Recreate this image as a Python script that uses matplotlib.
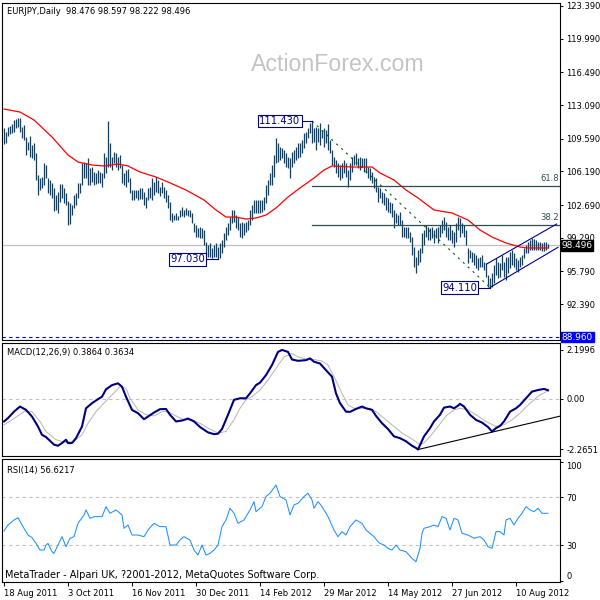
import matplotlib

matplotlib.use("Agg")
import matplotlib.pyplot as plt
import numpy as np

# daily EURJPY bars, index 0 = 18 Aug 2011
bar_highs = [
    110.70, 110.28, 110.80, 110.91, 111.11, 111.53, 111.63, 111.74, 111.74, 110.80,
    111.01, 109.76, 109.24, 109.87, 108.93, 109.14, 108.10, 105.81, 105.50, 105.60,
    107.06, 106.85, 105.50, 105.29, 104.98, 104.46, 103.73, 104.04, 104.87, 104.87,
    104.46, 103.94, 103.11, 102.90, 102.69, 103.73, 103.94, 104.98, 104.98, 107.06,
    107.16, 107.06, 107.58, 106.54, 106.64, 106.12, 106.02, 106.33, 106.12, 106.02,
    108.10, 107.68, 111.43, 109.14, 107.68, 108.20, 108.10, 107.68, 107.89, 106.85,
    106.02, 106.33, 106.43, 105.50, 104.25, 104.25, 104.25, 104.25, 104.46, 104.46,
    104.04, 103.52, 104.46, 104.56, 105.50, 105.08, 105.60, 105.29, 104.56, 105.08,
    104.56, 104.25, 103.73, 103.00, 101.86, 101.65, 101.86, 101.54, 102.17, 102.48,
    102.17, 102.38, 102.17, 102.17, 101.86, 100.82, 100.61, 100.30, 100.40, 100.30,
    100.09, 98.84, 98.53, 98.74, 98.22, 98.53, 98.74, 98.32, 98.74, 99.05,
    99.78, 100.40, 100.82, 101.44, 102.17, 102.17, 101.65, 101.44, 100.82, 100.92,
    100.82, 100.92, 101.13, 102.17, 102.69, 103.21, 103.21, 103.21, 103.21, 103.21,
    103.52, 104.77, 105.30, 106.02, 106.85, 107.89, 109.66, 109.14, 108.72, 108.62,
    108.41, 108.10, 107.68, 107.58, 108.20, 108.41, 108.72, 109.14, 109.14, 109.45,
    110.18, 110.28, 110.70, 111.22, 111.43, 110.70, 110.80, 110.70, 111.22, 110.49,
    110.70, 110.49, 111.11, 109.45, 108.41, 107.68, 107.37, 107.06, 106.85, 107.06,
    107.37, 107.06, 106.33, 107.06, 107.68, 107.89, 108.10, 107.58, 107.68, 107.58,
    107.58, 107.58, 106.64, 106.54, 106.12, 105.60, 105.50, 104.56, 104.46, 104.04,
    103.94, 103.52, 103.42, 103.00, 102.90, 102.17, 101.86, 101.65, 101.96, 101.13,
    100.40, 100.40, 100.40, 99.88, 99.36, 98.32, 97.28, 98.01, 98.22, 99.78,
    100.09, 100.61, 100.40, 100.30, 100.40, 100.09, 100.30, 100.40, 100.61, 101.13,
    101.44, 100.92, 100.40, 100.61, 100.09, 99.88, 100.82, 101.44, 101.34, 100.82,
    100.61, 100.09, 98.22, 98.01, 97.80, 97.70, 97.49, 97.18, 97.28, 97.49,
    96.76, 96.66, 95.41, 95.10, 95.62, 96.45, 97.18, 96.76, 96.66, 97.49,
    96.76, 97.28, 97.28, 97.80, 98.01, 97.70, 97.18, 96.97, 97.28, 97.49,
    98.22, 98.53, 98.84, 99.05, 99.26, 99.15, 99.05, 98.84, 98.84, 98.74,
    98.84, 98.84, 98.60,
]
bar_lows = [
    109.03, 109.14, 109.87, 110.07, 110.18, 110.28, 110.70, 110.80, 110.28, 109.66,
    109.45, 107.89, 108.41, 107.68, 107.58, 107.37, 105.29, 103.73, 104.25, 104.46,
    104.77, 105.50, 103.94, 103.73, 103.42, 102.07, 102.17, 101.86, 103.00, 103.42,
    102.90, 102.69, 100.61, 100.71, 101.65, 102.38, 102.69, 103.42, 103.94, 104.77,
    105.50, 105.50, 104.77, 104.77, 105.08, 104.77, 104.87, 104.98, 104.98, 104.56,
    105.50, 106.02, 106.64, 106.64, 106.33, 107.06, 106.64, 106.33, 106.54, 104.98,
    104.77, 104.56, 105.08, 103.94, 103.21, 103.21, 103.42, 103.21, 103.31, 103.31,
    102.69, 102.38, 103.21, 103.42, 103.21, 103.73, 104.04, 103.94, 103.63, 103.94,
    103.42, 103.00, 102.38, 101.13, 100.92, 101.13, 101.13, 101.13, 101.44, 101.54,
    101.44, 101.65, 101.54, 101.44, 100.82, 99.88, 99.36, 99.36, 99.26, 99.26,
    98.53, 97.49, 97.28, 97.28, 97.18, 97.28, 97.28, 97.03, 97.18, 97.70,
    98.32, 99.05, 99.57, 100.09, 100.82, 100.92, 100.30, 100.09, 99.36, 99.26,
    99.57, 99.88, 100.09, 100.61, 101.13, 101.86, 101.86, 101.86, 101.86, 101.96,
    102.17, 102.90, 103.73, 104.77, 104.77, 105.60, 107.06, 107.16, 107.37, 107.58,
    107.06, 106.64, 106.54, 105.50, 106.64, 107.06, 107.37, 107.58, 107.68, 108.10,
    108.62, 109.14, 109.66, 110.18, 109.14, 109.24, 108.41, 109.24, 108.93, 109.66,
    108.72, 109.14, 108.41, 108.10, 106.85, 106.64, 106.02, 105.60, 105.29, 105.50,
    106.02, 105.60, 104.56, 105.29, 106.12, 106.85, 106.85, 106.54, 106.33, 106.64,
    106.12, 106.02, 105.50, 105.29, 104.98, 104.46, 104.04, 103.00, 103.42, 102.90,
    102.69, 102.17, 101.96, 101.86, 101.44, 100.30, 100.82, 100.61, 100.61, 99.36,
    99.36, 99.26, 99.26, 98.84, 97.49, 96.24, 95.62, 96.45, 96.76, 97.70,
    98.53, 99.36, 99.05, 99.05, 99.26, 98.74, 99.26, 98.74, 99.36, 99.78,
    100.09, 99.36, 99.05, 99.05, 98.74, 98.32, 98.84, 100.09, 99.36, 99.78,
    99.36, 98.53, 96.66, 97.18, 96.76, 96.45, 96.14, 95.93, 96.24, 96.24,
    95.93, 95.20, 94.16, 94.11, 94.16, 94.58, 95.41, 95.10, 95.20, 95.93,
    95.20, 94.89, 95.62, 96.14, 96.45, 96.24, 95.93, 95.72, 96.24, 96.45,
    97.18, 97.70, 97.70, 98.01, 98.01, 98.01, 98.01, 98.01, 98.01, 97.91,
    97.91, 98.01, 98.22,
]

# red moving average, read at selected bars
ma_bars = [0, 8, 15, 24, 32, 37, 44, 50, 57, 62, 68, 76, 82, 91, 100, 106, 111, 116, 121,
           126, 131, 136, 142, 148, 155, 160, 164, 174, 184, 188, 195, 201, 207, 215, 224,
           232, 238, 244, 251, 258, 262, 272]
ma_values = [112.67, 112.36, 111.53, 109.76, 107.89, 107.16, 106.85, 106.75, 106.95, 106.75,
             106.12, 105.60, 105.08, 104.25, 103.21, 102.17, 101.44, 101.44, 101.23, 101.34,
             101.65, 102.38, 103.52, 104.46, 105.50, 106.33, 106.75, 106.64, 106.64, 106.02,
             105.29, 104.25, 103.42, 102.17, 101.86, 101.13, 100.09, 99.36, 98.74, 98.32,
             98.22, 98.22]

macd_bars = [0, 2, 5, 8, 11, 14, 17, 19, 21, 25, 27, 29, 31, 32, 34, 36, 39, 41, 44, 47,
             49, 51, 54, 57, 59, 61, 64, 67, 70, 72, 75, 78, 81, 83, 86, 89, 92, 95, 98, 102,
             105, 107, 109, 112, 115, 118, 121, 123, 126, 128, 131, 134, 137, 139, 142, 144,
             147, 151, 153, 155, 158, 161, 164, 166, 168, 171, 173, 176, 179, 181, 184, 186,
             189, 192, 195, 198, 201, 204, 206, 207, 210, 213, 215, 218, 220, 223, 225, 227,
             228, 230, 233, 236, 239, 242, 244, 246, 248, 250, 253, 256, 258, 261, 264, 267,
             270, 272]
macd_values = [-1.01, -0.86, -0.57, -0.34, -0.49, -0.79, -1.24, -1.61, -1.71, -2.05, -2.10,
               -1.98, -1.83, -1.98, -1.98, -1.76, -1.24, -0.42, -0.19, -0.01, 0.10, 0.43, 0.62,
               0.70, 0.55, 0.10, -0.49, -0.64, -0.91, -0.79, -0.61, -0.46, -0.45, -0.71, -1.01,
               -0.97, -0.88, -1.01, -1.26, -1.50, -1.58, -1.56, -1.35, -0.71, -0.04, 0.03, 0.03,
               0.25, 0.62, 0.73, 1.07, 1.52, 2.11, 2.20, 2.11, 1.77, 1.71, 1.74, 1.82, 1.67,
               1.59, 1.29, 1.00, 0.25, -0.19, -0.57, -0.58, -0.45, -0.34, -0.42, -0.49, -0.76,
               -1.09, -1.35, -1.68, -1.76, -1.90, -2.10, -2.20, -2.27, -1.68, -1.31, -1.01,
               -0.71, -0.39, -0.34, -0.42, -0.30, -0.22, -0.34, -0.71, -0.94, -1.06, -1.26,
               -1.46, -1.31, -1.21, -1.01, -0.57, -0.42, -0.27, 0.03, 0.33, 0.40, 0.45, 0.39]

signal_bars = [0, 4, 10, 14, 18, 21, 26, 31, 35, 39, 42, 46, 50, 54, 58, 61, 63, 67, 71, 75,
               79, 82, 86, 90, 94, 98, 102, 107, 111, 115, 118, 121, 124, 128, 132, 136, 140,
               144, 147, 151, 155, 159, 162, 165, 169, 172, 175, 179, 183, 186, 190, 194, 199,
               204, 208, 210, 213, 217, 221, 225, 228, 232, 236, 241, 246, 250, 254, 258, 263,
               268, 272]
signal_values = [-1.16, -0.94, -0.57, -0.57, -1.01, -1.46, -1.83, -1.95, -1.90, -1.61, -1.09,
                 -0.57, -0.19, 0.18, 0.55, 0.48, 0.03, -0.49, -0.71, -0.76, -0.57, -0.57, -0.76,
                 -0.94, -0.94, -1.09, -1.31, -1.53, -1.46, -0.94, -0.42, -0.04, 0.10, 0.40, 0.85,
                 1.37, 1.89, 2.04, 1.89, 1.79, 1.77, 1.70, 1.52, 1.00, 0.25, -0.27, -0.42, -0.42,
                 -0.42, -0.57, -0.86, -1.16, -1.53, -1.80, -2.05, -1.98, -1.68, -1.24, -0.76,
                 -0.49, -0.42, -0.49, -0.71, -1.01, -1.24, -1.16, -0.94, -0.64, -0.19, 0.18, 0.36]

rsi_bars = [0, 2, 5, 7, 9, 12, 14, 16, 18, 20, 21, 22, 24, 25, 27, 29, 31, 33, 35, 37, 40,
            41, 43, 45, 49, 51, 53, 56, 59, 60, 62, 64, 67, 70, 72, 75, 78, 81, 83, 86, 88,
            90, 93, 95, 97, 99, 101, 103, 105, 107, 109, 111, 113, 115, 117, 120, 123, 125,
            126, 129, 131, 133, 136, 138, 141, 143, 145, 147, 150, 152, 154, 155, 157, 159,
            162, 165, 167, 169, 171, 173, 176, 179, 181, 183, 185, 187, 188, 190, 192, 194,
            196, 198, 201, 204, 206, 208, 209, 210, 213, 215, 217, 219, 221, 223, 225, 227,
            229, 232, 235, 238, 240, 242, 244, 246, 248, 250, 251, 253, 255, 257, 259, 261,
            263, 265, 267, 269, 272]
rsi_values = [41.8, 46.8, 51.0, 52.9, 46.8, 38.4, 36.2, 31.4, 25.8, 25.8, 30.0, 31.4, 24.4,
              23.0, 30.0, 37.0, 28.6, 35.6, 37.0, 48.2, 55.2, 59.4, 52.4, 53.8, 53.8, 62.2,
              56.6, 59.4, 55.2, 44.0, 46.8, 38.4, 38.4, 37.0, 42.6, 48.2, 45.4, 45.4, 30.0,
              30.0, 34.2, 37.0, 34.2, 25.8, 21.6, 30.0, 21.6, 23.0, 25.8, 30.0, 45.4, 51.0,
              60.8, 56.6, 48.2, 51.0, 59.4, 66.4, 58.0, 62.2, 70.6, 73.4, 80.3, 70.6, 67.8,
              55.2, 63.6, 65.0, 70.6, 73.4, 67.8, 60.8, 66.4, 62.2, 53.8, 42.6, 37.0, 41.2,
              38.4, 45.4, 51.0, 48.2, 42.6, 39.8, 37.0, 32.8, 31.4, 30.0, 27.2, 25.8, 30.0,
              25.8, 24.4, 18.8, 16.0, 27.2, 39.8, 44.0, 45.4, 46.8, 45.4, 53.8, 52.4, 42.6,
              52.4, 51.0, 39.8, 38.4, 35.6, 37.0, 34.2, 28.6, 27.2, 41.2, 41.2, 38.4, 51.0,
              52.4, 46.8, 52.4, 56.6, 62.2, 59.4, 58.0, 60.8, 56.6, 56.6]

price_ticks = [123.39, 119.99, 116.49, 113.09, 109.59, 106.19, 102.69, 99.29, 95.79, 92.39]
date_ticks = [0, 32, 64, 96, 128, 160, 192, 224, 256]
date_labels = ["18 Aug 2011", "3 Oct 2011", "16 Nov 2011", "30 Dec 2011", "14 Feb 2012",
               "29 Mar 2012", "14 May 2012", "27 Jun 2012", "10 Aug 2012"]

swing_labels = [(154, 111.43, "111.430", 148.2), (107, 97.03, "97.030", 100.6), (243, 94.11, "94.110", 236.6)]
fib_levels = [(104.65, "61.8"), (100.62, "38.2")]
last_price = 98.496
floor_price = 88.96

BAR_COLOR = "#173f5c"
FIB_COLOR = "#2f4f4f"
NAVY = "#000080"
FS = 6.0
W, H = 600, 600
X0, X1 = -1, 278
Y0, Y1 = 88.65, 123.70


def _axes(fig, top, bottom, left=2, right=560):
    return fig.add_axes([left / W, 1 - bottom / H, (right - left) / W, (bottom - top) / H])


def _style(ax, ticks, labels):
    ax.set_xlim(X0, X1)
    ax.yaxis.tick_right()
    ax.set_yticks(ticks)
    ax.set_yticklabels(labels)
    ax.tick_params(axis="y", direction="out", length=2.5, width=0.7, pad=2, labelsize=FS)
    ax.tick_params(axis="x", length=0, labelbottom=False)
    for spine in ax.spines.values():
        spine.set_linewidth(0.8)
        spine.set_color("black")


def _price_tag(ax, price, bg):
    ax.text(1.003, (price - Y0) / (Y1 - Y0), f"{price:.3f}", transform=ax.transAxes,
            color="white", fontsize=FS + 0.4, ha="left", va="center", zorder=5, clip_on=False,
            bbox=dict(boxstyle="square,pad=0.08", fc=bg, ec=bg))


fig = plt.figure(figsize=(6, 6), dpi=100, facecolor="white")
plt.rcParams["font.family"] = ["DejaVu Sans"]

# ---- price panel
ax = _axes(fig, 3, 340)
idx = np.arange(len(bar_highs))
ax.vlines(idx, bar_lows, bar_highs, color=BAR_COLOR, linewidth=0.9)
ax.plot(ma_bars, ma_values, color="red", linewidth=0.9)
ax.axhline(last_price, color="#c0c0c0", linewidth=0.9, zorder=0)
ax.axhline(floor_price, color="#0000cc", linewidth=0.8, linestyle=(0, (3, 3)))

for level, name in fib_levels:
    ax.plot([154, X1], [level, level], color=FIB_COLOR, linewidth=0.9)
    ax.text(277.6, level + 0.3, name, color=FIB_COLOR, fontsize=FS, ha="right", va="bottom")

ax.plot([154, 243], [111.43, 94.11], color="#006400", linewidth=0.8, linestyle=(0, (2, 4)))
ax.plot([243, 277], [94.11, 98.29], color="#00008b", linewidth=0.8)
ax.plot([241.3, 276.3], [96.55, 100.71], color="#00008b", linewidth=0.8)

for bar, price, text, tx in swing_labels:
    ax.plot([tx + 1, bar], [price, price], color=NAVY, linewidth=0.8)
    ax.text(tx, price, text, color=NAVY, fontsize=FS + 1.2, ha="right", va="center",
            bbox=dict(boxstyle="square,pad=0.12", fc="white", ec=NAVY, lw=0.8))

ax.set_ylim(Y0, Y1)
_style(ax, price_ticks, [f"{v:.3f}" for v in price_ticks])
_price_tag(ax, last_price, "black")
_price_tag(ax, floor_price, "#0000ff")

# ---- MACD panel
ax2 = _axes(fig, 343, 456)
ax2.axhline(0, color="#c0c0c0", linewidth=0.8, linestyle=(0, (3, 3)))
ax2.plot(signal_bars, signal_values, color="#b4b4b4", linewidth=0.7)
ax2.plot(macd_bars, macd_values, color=NAVY, linewidth=1.5)
ax2.plot([207, X1], [-2.27, -2.27 + 0.0211 * (X1 - 207)], color="black", linewidth=0.8)
ax2.set_ylim(-2.56, 2.51)
_style(ax2, [2.1996, 0.0, -2.2651], ["2.1996", "0.00", "-2.2651"])

# ---- RSI panel
ax3 = _axes(fig, 459, 582)
for lvl in (70, 30):
    ax3.axhline(lvl, color="#c0c0c0", linewidth=0.8, linestyle=(0, (3, 3)))
ax3.plot(rsi_bars, rsi_values, color="#1e90ff", linewidth=0.75)
ax3.set_ylim(-1.0, 102.1)
_style(ax3, [100, 70, 30, 0], ["100", "70", "30", "0"])
labels = ax3.get_yticklabels()
labels[0].set_va("top")
labels[3].set_va("bottom")
ax3.set_xticks(date_ticks)
ax3.set_xticklabels(date_labels, ha="left")
ax3.tick_params(axis="x", length=3, width=0.7, labelbottom=True, labelsize=FS, pad=2)

# ---- texts
fig.text(7 / W, 1 - 11 / H, "EURJPY,Daily  98.476 98.597 98.222 98.496", fontsize=FS, va="center")
fig.text(338 / W, 1 - 71 / H, "ActionForex.com", fontsize=16.7, color="#c4c4c4",
         family="Liberation Sans", ha="center", va="baseline")
fig.text(7 / W, 1 - 353 / H, "MACD(12,26,9) 0.3864 0.3634", fontsize=FS, va="center")
fig.text(7 / W, 1 - 470 / H, "RSI(14) 56.6217", fontsize=FS, va="center")
fig.text(5 / W, 1 - 575 / H, "MetaTrader - Alpari UK, ?2001-2012, MetaQuotes Software Corp.",
         fontsize=7.0, va="center")

fig.savefig("out.png", dpi=100, facecolor="white")
